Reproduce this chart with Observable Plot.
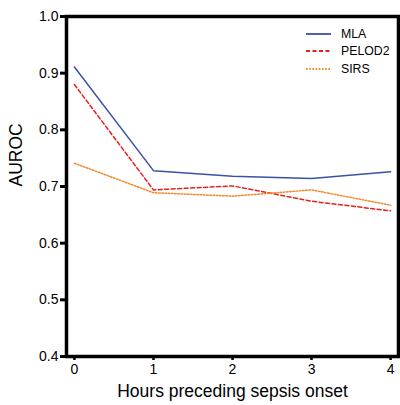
<!DOCTYPE html>
<html><head><meta charset="utf-8">
<script src="https://cdn.jsdelivr.net/npm/d3@7"></script>
<script src="https://cdn.jsdelivr.net/npm/@observablehq/plot@0.6"></script>
<style>
body{margin:0;background:#fff;font-family:"Liberation Sans",Arial,sans-serif;}
#wrap{position:relative;width:400px;height:405px;}
#legend{position:absolute;left:306px;top:25px;font-size:12.3px;color:#000;}
#legend div{display:flex;align-items:center;height:17.5px;}
#legend svg{margin-right:10px;}
</style></head>
<body><div id="wrap"><div id="legend"></div></div>
<script>
const hours = [0, 1, 2, 3, 4];
const seriesNames = ["MLA", "PELOD2", "SIRS"];
const mla = [0.911, 0.728, 0.718, 0.714, 0.726];
const pelod2 = [0.880, 0.694, 0.701, 0.674, 0.657];
const sirs = [0.741, 0.689, 0.683, 0.694, 0.667];
const yTicks = [0.4, 0.5, 0.6, 0.7, 0.8, 0.9, 1.0];
const colors = {MLA: "#3a52a5", PELOD2: "#e8201c", SIRS: "#f38a2c"};
const dashes = {MLA: null, PELOD2: "4,2.5", SIRS: "1.6,1.6"};

const values = {MLA: mla, PELOD2: pelod2, SIRS: sirs};
const data = seriesNames.flatMap(s => hours.map((h, i) => ({series: s, hour: h, auroc: values[s][i]})));

const lines = seriesNames.map(s => Plot.line(data.filter(d => d.series === s), {
  x: "hour", y: "auroc", stroke: colors[s], strokeWidth: 1.5, strokeDasharray: dashes[s]
}));

const chart = Plot.plot({
  width: 400, height: 405,
  marginLeft: 66, marginRight: 2, marginTop: 16, marginBottom: 49,
  style: {fontFamily: "Liberation Sans, Arial, sans-serif", fontSize: "14px", color: "#000", background: "white"},
  x: {domain: [-0.1, 4.1]},
  y: {domain: [0.4, 1.0]},
  marks: [
    Plot.axisY({ticks: yTicks, tickFormat: d3.format(".1f"), tickSize: 6, tickPadding: 2, stroke: "black", strokeWidth: 3, label: null}),
    Plot.axisX({ticks: hours, tickFormat: d3.format("d"), tickSize: 4, tickPadding: 4, stroke: "black", strokeWidth: 2.5, label: null}),
    ...lines,
    Plot.frame({stroke: "black", strokeWidth: 3.5}),
    Plot.text(["AUROC"], {frameAnchor: "left", dx: -50, rotate: -90, fontSize: 17.5, fill: "#000"}),
    Plot.text(["Hours preceding sepsis onset"], {frameAnchor: "bottom", dy: 40, fontSize: 17.5, fill: "#000"})
  ]
});
document.getElementById("wrap").prepend(chart);

const legend = document.getElementById("legend");
seriesNames.forEach(s => {
  const row = document.createElement("div");
  row.innerHTML = `<svg width="25" height="6"><line x1="0" x2="25" y1="3" y2="3" stroke="${colors[s]}" stroke-width="1.8" ${dashes[s] ? `stroke-dasharray="${dashes[s]}"` : ""}/></svg><span>${s}</span>`;
  legend.appendChild(row);
});
</script></body></html>
